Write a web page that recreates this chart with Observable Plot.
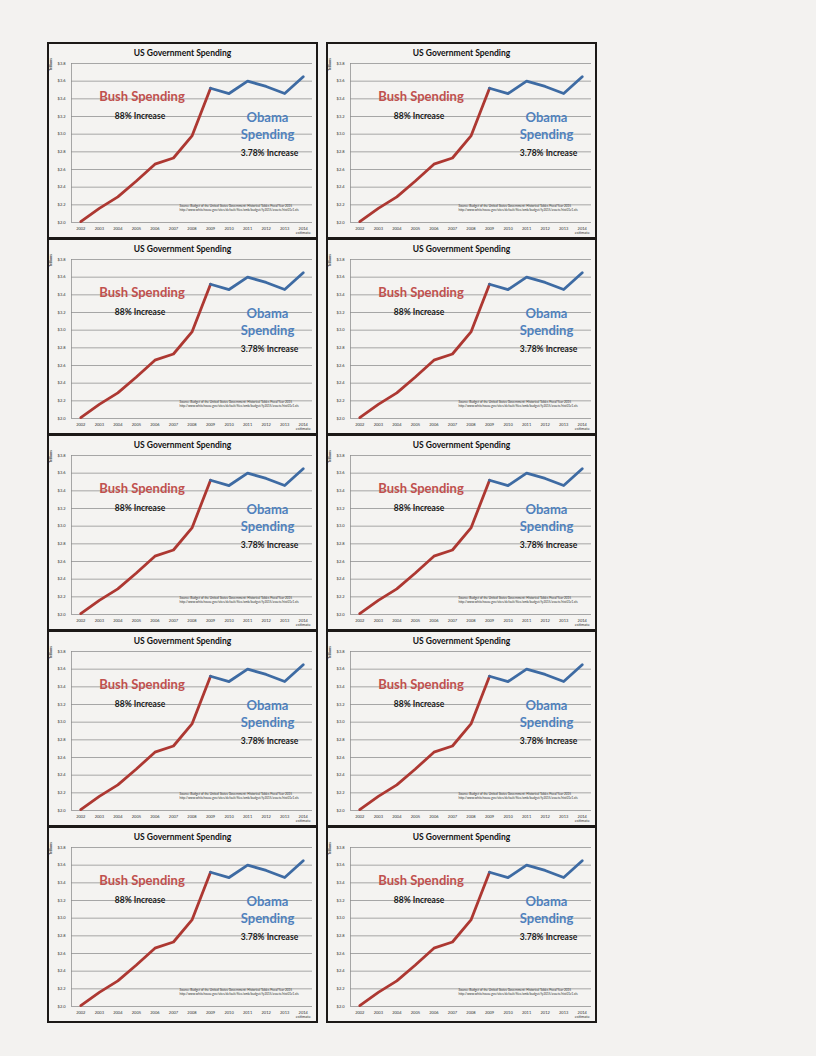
<!DOCTYPE html>
<html><head><meta charset="utf-8">
<script src="https://cdn.jsdelivr.net/npm/d3@7"></script>
<script src="https://cdn.jsdelivr.net/npm/@observablehq/plot@0.6"></script>
<style>
body{margin:0;background:#f3f2f0;width:816px;height:1056px;position:relative;overflow:hidden;font-family:Lato,"Open Sans",sans-serif;}
.panel{position:absolute;box-sizing:border-box;border:2px solid #1c1917;background:#f4f3f1;}
.title{height:16px;line-height:18px;text-align:center;font-weight:700;font-size:8.5px;color:#111;white-space:nowrap;}
.panel svg{display:block;overflow:visible;}
</style></head><body>
<script>
// ---- data ----
const years = [2002, 2003, 2004, 2005, 2006, 2007, 2008, 2009, 2010, 2011, 2012, 2013, 2014];
const spending = [2.01, 2.16, 2.29, 2.47, 2.66, 2.73, 2.98, 3.52, 3.46, 3.60, 3.54, 3.46, 3.65];
const xTickLabels = ["2002", "2003", "2004", "2005", "2006", "2007", "2008", "2009", "2010", "2011", "2012", "2013", "2014\nestimate"];
const yTicks = [2.0, 2.2, 2.4, 2.6, 2.8, 3.0, 3.2, 3.4, 3.6, 3.8];
const yTickLabels = ["$2.0", "$2.2", "$2.4", "$2.6", "$2.8", "$3.0", "$3.2", "$3.4", "$3.6", "$3.8"];
const splitYear = 2009;
const titleText = "US Government Spending";
const yLabel = "Trillions";
const bushLabel = "Bush Spending";
const bushNote = "88% Increase";
const obamaLabel = "Obama\nSpending";
const obamaNote = "3.78% Increase";
const sourceLine1 = "Source: Budget of the United States Government: Historical Tables Fiscal Year 2015";
const sourceLine2 = "http://www.whitehouse.gov/sites/default/files/omb/budget/fy2015/assets/hist01z1.xls";

const rows = years.map((y, i) => ({year: y, value: spending[i]}));
const bush = rows.filter(d => d.year <= splitYear);
const obama = rows.filter(d => d.year >= splitYear);
const xDomain = [years[0] - 0.5, years[years.length - 1] + 0.5];

const centered = {frameAnchor: "top-left", textAnchor: "middle", lineAnchor: "middle", fontWeight: 700};

function makeChart() {
  return Plot.plot({
    width: 267, height: 177,
    marginTop: 3, marginBottom: 15, marginLeft: 22, marginRight: 4,
    style: {background: "transparent", overflow: "visible", fontFamily: "Lato, 'Open Sans', sans-serif", color: "#333"},
    x: {domain: xDomain},
    y: {domain: [yTicks[0], yTicks[yTicks.length - 1]]},
    marks: [
      Plot.gridY(yTicks, {stroke: "#8c8c8c", strokeOpacity: 1, strokeWidth: 0.75}),
      Plot.ruleX([xDomain[0]], {stroke: "#8c8c8c", strokeWidth: 0.75}),
      Plot.axisY(yTicks, {tickSize: 0, tickPadding: 6, fontSize: 4, label: null,
        tickFormat: d => yTickLabels[yTicks.indexOf(d)]}),
      Plot.axisX(years, {tickSize: 0, tickPadding: 4, fontSize: 4, label: null, lineHeight: 1.1,
        tickFormat: d => xTickLabels[years.indexOf(d)]}),
      Plot.text([yLabel], {...centered, dx: -21, dy: 1, rotate: -90, fontSize: 3.6, fill: "#333"}),
      Plot.line(bush, {x: "year", y: "value", stroke: "#ad3832", strokeWidth: 2.8, strokeLinejoin: "round"}),
      Plot.line(obama, {x: "year", y: "value", stroke: "#3e6ba3", strokeWidth: 2.8, strokeLinejoin: "round"}),
      Plot.text([bushLabel], {...centered, dx: 70.5, dy: 33, fill: "#c0504d", fontSize: 13}),
      Plot.text([bushNote], {...centered, dx: 68.5, dy: 53, fill: "#1a1a1a", fontSize: 8.5}),
      Plot.text([obamaLabel], {...centered, dx: 196, dy: 61.5, fill: "#4f81bd", fontSize: 13, lineHeight: 1.28}),
      Plot.text([obamaNote], {...centered, dx: 198, dy: 90, fill: "#1a1a1a", fontSize: 8.5}),
      Plot.text([sourceLine1 + "\n" + sourceLine2], {frameAnchor: "top-left", dx: 108, dy: 140.5, textAnchor: "start", lineAnchor: "top", fontSize: 3.1, lineHeight: 1.3, fill: "#333"})
    ]
  });
}

const cols = [47, 326];
const rowTops = [42, 238, 434, 630, 826];
for (const top of rowTops) {
  for (const left of cols) {
    const panel = document.createElement("div");
    panel.className = "panel";
    panel.style.left = left + "px";
    panel.style.top = top + "px";
    panel.style.width = "271px";
    panel.style.height = "197px";
    const t = document.createElement("div");
    t.className = "title";
    t.textContent = titleText;
    panel.appendChild(t);
    panel.appendChild(makeChart());
    document.body.appendChild(panel);
  }
}
</script>
</body></html>
